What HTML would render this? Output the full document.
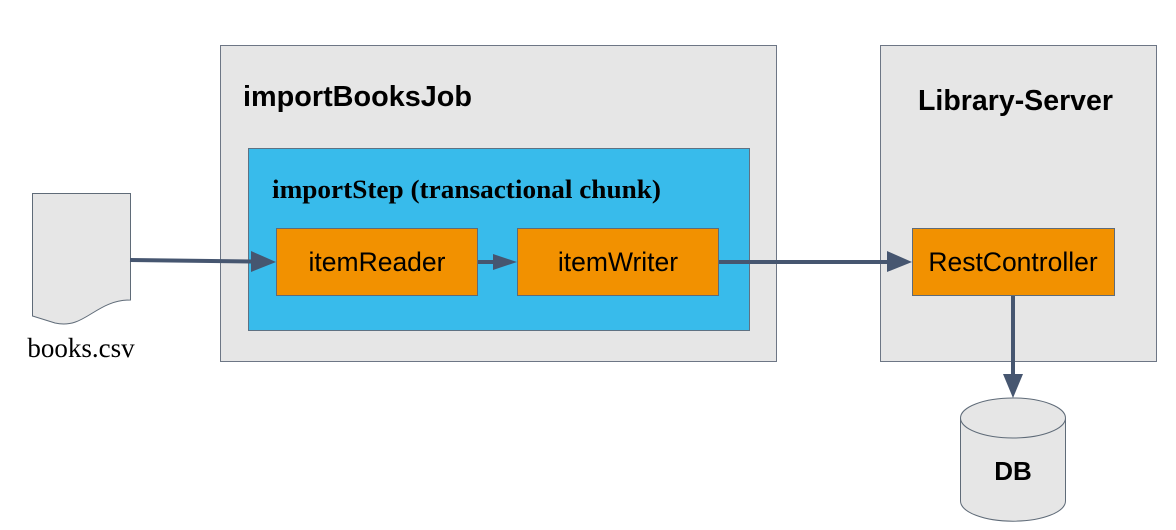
<!DOCTYPE html>
<html><head><style>html,body{margin:0;padding:0;background:#fff;width:1176px;height:530px;overflow:hidden}</style></head><body>
<svg width="1176" height="530" viewBox="0 0 1176 530" xmlns="http://www.w3.org/2000/svg">
<rect x="220.5" y="45.5" width="556" height="316" fill="#e6e6e6" stroke="#6d7685"/>
<rect x="880.5" y="45.5" width="276" height="316" fill="#e6e6e6" stroke="#6d7685"/>
<rect x="248.5" y="148.5" width="501" height="182" fill="#38bbeb" stroke="#5f7283"/>
<text x="243" y="106" font-family="Liberation Sans, sans-serif" font-weight="bold" font-size="28.5" fill="#000" textLength="229" lengthAdjust="spacingAndGlyphs">importBooksJob</text>
<text x="918" y="110" font-family="Liberation Sans, sans-serif" font-weight="bold" font-size="28.5" fill="#000" textLength="195" lengthAdjust="spacingAndGlyphs">Library-Server</text>
<text x="272" y="198" font-family="Liberation Serif, serif" font-weight="bold" font-size="26" fill="#000" textLength="389" lengthAdjust="spacingAndGlyphs">importStep (transactional chunk)</text>
<rect x="276.5" y="228.5" width="201" height="67" fill="#f29100" stroke="#5f6b78"/>
<rect x="517.5" y="228.5" width="201" height="67" fill="#f29100" stroke="#5f6b78"/>
<rect x="912.5" y="228.5" width="202" height="67" fill="#f29100" stroke="#5f6b78"/>
<g font-family="Liberation Sans, sans-serif" font-size="26.5" fill="#000" text-anchor="middle">
<text x="377" y="271">itemReader</text>
<text x="618" y="271">itemWriter</text>
<text x="1013" y="271">RestController</text>
</g>
<path d="M32.5,193.5 H130.5 V300 C95,300 85,330 55,323 L32.5,316 Z" fill="#e6e6e6" stroke="#5f6b78"/>
<text x="81" y="357" text-anchor="middle" font-family="Liberation Serif, serif" font-size="27" fill="#000">books.csv</text>
<g stroke="#465670" stroke-width="4" fill="none">
<line x1="130" y1="260" x2="252" y2="261.5"/>
<line x1="478" y1="262" x2="494" y2="262"/>
<line x1="719" y1="262" x2="889" y2="262"/>
<line x1="1013" y1="296" x2="1013" y2="376"/>
</g>
<g fill="#465670">
<path d="M251,251 L276,262 L251,272z"/>
<path d="M493,254 L517,262 L493,270z"/>
<path d="M887,251 L912,262 L887,272z"/>
<path d="M1003,374 L1013,398 L1023,374z"/>
</g>
<path d="M960.5,418 V501 A52,20 0 0 0 1065.5,501 V418" fill="#e6e6e6" stroke="#5f6b78"/>
<ellipse cx="1013" cy="418" rx="52.5" ry="20" fill="#e6e6e6" stroke="#5f6b78"/>
<text x="1013" y="480" text-anchor="middle" font-family="Liberation Sans, sans-serif" font-weight="bold" font-size="26" fill="#000">DB</text>
</svg>
</body></html>
